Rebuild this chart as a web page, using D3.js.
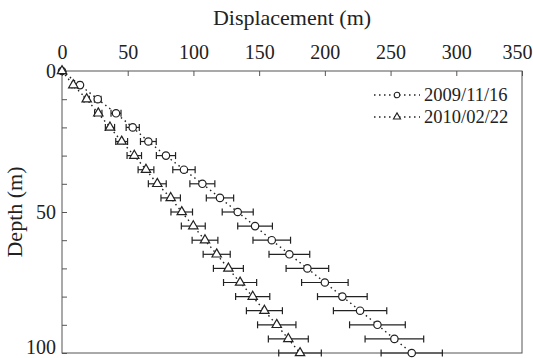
<!DOCTYPE html>
<html>
<head>
<meta charset="utf-8">
<script src="https://cdn.jsdelivr.net/npm/d3@7"></script>
<style>
  html, body { margin: 0; padding: 0; background: #fff; }
  svg { display: block; }
  svg text { font-family: "Liberation Serif", "Times New Roman", Times, "DejaVu Serif", serif; }
</style>
</head>
<body>
<svg id="chart" width="533" height="358"></svg>
<script>
// Tiefen (m) und Verschiebungen (m)
const depths = [0, 5, 10, 15, 20, 25, 30, 35, 40, 45, 50, 55, 60, 65, 70, 75, 80, 85, 90, 95, 100];

const disp2009 = [0, 13.7, 27.2, 41.1, 53.8, 65.7, 79.1, 92.8, 106.8, 120.2, 133.7, 146.9, 159.6, 173, 186.7, 200, 213.3, 226.8, 240, 252.9, 266.1];
const err2009  = [0, 1.5, 2.5, 3.8, 5, 6, 7.3, 8.5, 9.5, 10.4, 11.8, 13.2, 14.3, 15.5, 16.2, 17.7, 18.9, 20.3, 21.2, 22.3, 23.3];

const disp2010 = [0, 8.6, 18.8, 27.6, 36.5, 45.4, 55, 63.9, 72.5, 82.7, 91.1, 99.9, 108.8, 117.7, 126.6, 135.5, 145.1, 154, 163.4, 172.2, 181.1];
const err2010  = [0, 1, 2, 2.8, 3.5, 4.5, 5.5, 6, 6.8, 7.4, 8.2, 9.1, 9.8, 10.3, 11.4, 12.6, 13, 13.7, 14.6, 15.2, 16.2];

const seriesLabels = ["2009/11/16", "2010/02/22"];
const xTicks = [0, 50, 100, 150, 200, 250, 300, 350];
const yTicks = [0, 10, 20, 30, 40, 50, 60, 70, 80, 90, 100];
const yLabels = [0, 50, 100];

const FONT = '"Liberation Serif", "Times New Roman", Times, "DejaVu Serif", serif';

const svg = d3.select("#chart");
const margin = { top: 71, right: 11, bottom: 5, left: 62 };
const width = 533 - margin.left - margin.right;
const height = 358 - margin.top - margin.bottom;

const g = svg.append("g")
  .attr("transform", `translate(${margin.left},${margin.top})`);

const x = d3.scaleLinear().domain([0, 350]).range([0, width]);
const y = d3.scaleLinear().domain([0, 100]).range([0, height]);

// Achsen (Ticks nach innen)
const xAxis = g.append("g")
  .call(d3.axisTop(x).tickValues(xTicks).tickSizeInner(-5).tickSizeOuter(0).tickPadding(12));
xAxis.attr("font-family", FONT);
xAxis.select(".domain").remove();
xAxis.selectAll("text")
  .attr("font-size", 20)
  .attr("fill", "#222")
  .attr("dx", d => d === 350 ? -5 : 0);
xAxis.selectAll("line").attr("stroke", "#555");

const yAxis = g.append("g")
  .call(d3.axisLeft(y).tickValues(yTicks).tickSizeInner(-5).tickSizeOuter(0).tickPadding(6)
    .tickFormat(d => yLabels.includes(d) ? d : ""));
yAxis.attr("font-family", FONT);
yAxis.select(".domain").remove();
yAxis.selectAll("text")
  .attr("font-size", 20)
  .attr("fill", "#222")
  .attr("dy", d => d === 100 ? "0.02em" : "0.32em");
yAxis.selectAll("line").attr("stroke", "#555");

// Rahmen
g.append("rect")
  .attr("x", 0).attr("y", 0)
  .attr("width", width).attr("height", height)
  .attr("fill", "none")
  .attr("stroke", "#555")
  .attr("stroke-width", 1);

// Achsentitel
svg.append("text")
  .attr("x", margin.left + x(175))
  .attr("y", 25)
  .attr("text-anchor", "middle")
  .attr("font-family", FONT)
  .attr("font-size", 22)
  .attr("fill", "#222")
  .text("Displacement (m)");

svg.append("text")
  .attr("transform", `translate(22,${margin.top + height / 2}) rotate(-90)`)
  .attr("text-anchor", "middle")
  .attr("font-family", FONT)
  .attr("font-size", 22)
  .attr("fill", "#222")
  .text("Depth (m)");

const series = [
  { label: seriesLabels[0], values: disp2009, errors: err2009, marker: "circle" },
  { label: seriesLabels[1], values: disp2010, errors: err2010, marker: "triangle" }
];

const line = d3.line()
  .x(d => x(d.v))
  .y(d => y(d.depth));

const triangle = d3.symbol().type(d3.symbolTriangle);

series.forEach(s => {
  const pts = depths.map((depth, i) => ({ depth, v: s.values[i], e: s.errors[i] }));

  g.append("path")
    .datum(pts)
    .attr("fill", "none")
    .attr("stroke", "#222")
    .attr("stroke-width", 1.4)
    .attr("stroke-dasharray", "1.5,3.5")
    .attr("d", line);

  const eb = g.append("g").selectAll("g")
    .data(pts.filter(d => d.e > 0))
    .enter().append("g")
    .attr("stroke", "#222")
    .attr("stroke-width", 1.2);

  eb.append("line")
    .attr("x1", d => x(d.v - d.e)).attr("x2", d => x(d.v + d.e))
    .attr("y1", d => y(d.depth)).attr("y2", d => y(d.depth));
  eb.append("line")
    .attr("x1", d => x(d.v - d.e)).attr("x2", d => x(d.v - d.e))
    .attr("y1", d => y(d.depth) - 3.5).attr("y2", d => y(d.depth) + 3.5);
  eb.append("line")
    .attr("x1", d => x(d.v + d.e)).attr("x2", d => x(d.v + d.e))
    .attr("y1", d => y(d.depth) - 3.5).attr("y2", d => y(d.depth) + 3.5);

  if (s.marker === "circle") {
    g.append("g").selectAll("circle")
      .data(pts)
      .enter().append("circle")
      .attr("cx", d => x(d.v))
      .attr("cy", d => y(d.depth))
      .attr("r", 3.7)
      .attr("fill", "#fff")
      .attr("stroke", "#222")
      .attr("stroke-width", 1.2);
  } else {
    g.append("g").selectAll("path")
      .data(pts)
      .enter().append("path")
      .attr("transform", d => `translate(${x(d.v)},${y(d.depth)})`)
      .attr("d", triangle.size(38))
      .attr("fill", "#fff")
      .attr("stroke", "#222")
      .attr("stroke-width", 1.2);
  }
});

// Legende
const legend = svg.append("g").attr("transform", "translate(374,0)");
const lg = legend.selectAll("g")
  .data(series)
  .enter().append("g")
  .attr("transform", (d, i) => `translate(0,${95 + i * 22})`);

lg.append("line")
  .attr("x1", 0).attr("x2", 46)
  .attr("y1", 0).attr("y2", 0)
  .attr("stroke", "#222")
  .attr("stroke-width", 1.4)
  .attr("stroke-dasharray", "1.5,3.5");

lg.filter(d => d.marker === "circle").append("circle")
  .attr("cx", 23).attr("cy", 0).attr("r", 2.8)
  .attr("fill", "#fff").attr("stroke", "#222").attr("stroke-width", 1.1);

lg.filter(d => d.marker === "triangle").append("path")
  .attr("transform", "translate(23,0)")
  .attr("d", d3.symbol().type(d3.symbolTriangle).size(22)())
  .attr("fill", "#fff").attr("stroke", "#222").attr("stroke-width", 1.1);

lg.append("text")
  .attr("x", 50)
  .attr("y", 0)
  .attr("dy", "0.35em")
  .attr("font-family", FONT)
  .attr("font-size", 18.5)
  .attr("fill", "#222")
  .text(d => d.label);
</script>
</body>
</html>
